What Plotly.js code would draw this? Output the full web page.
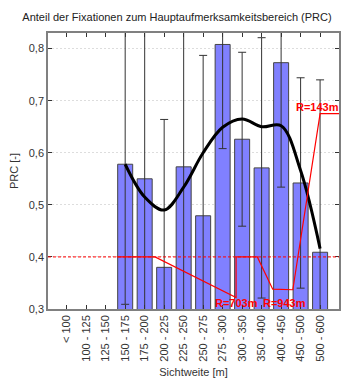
<!DOCTYPE html>
<html>
<head>
<meta charset="utf-8">
<script src="https://cdn.plot.ly/plotly-3.0.1.min.js"></script>
<style>
  html, body { margin: 0; padding: 0; background: #fff; }
  #chart { width: 342px; height: 383px; }
</style>
</head>
<body>
<div id="chart"></div>
<script>
// Visibility classes (metres)
const categories = ['< 100', '100 - 125', '125 - 150', '150 - 175', '175 - 200', '200 - 225',
  '225 - 250', '250 - 275', '275 - 300', '300 - 350', '350 - 400', '400 - 450',
  '450 - 500', '500 - 600'];

// Mean PRC per class and its standard deviation
const prc      = [null, null, null, 0.578, 0.550, 0.380, 0.573, 0.479, 0.808, 0.626, 0.571, 0.773, 0.542, 0.409];
const prcError = [null, null, null, 0.269, 0.300, 0.284, 0.300, 0.308, 0.200, 0.167, 0.250, 0.239, 0.202, 0.331];

// Smoothed trend through the class means
const trend = [null, null, null, 0.578, 0.515, 0.490, 0.534, 0.600, 0.649, 0.665, 0.650, 0.652, 0.566, 0.416];

// Range model overlay (position along the class axis, value)
const rangeX = [2.57, 4.53, 8.69, 8.69, 9.78, 10.57, 11.60, 13.00, 14.20];
const rangeY = [0.400, 0.400, 0.322, 0.400, 0.400, 0.338, 0.337, 0.675, 0.675];
const rangeLabels = ['R=703m', 'R=943m', 'R=143m'];

const threshold = 0.4;

const FONT = 'Liberation Sans, Arial, sans-serif';
const xRange = [-0.96, 13.97];

const traces = [
  {
    type: 'bar',
    x: categories,
    y: prc,
    width: 0.77,
    marker: { color: '#8080ff', line: { color: '#444', width: 1 } },
    error_y: { type: 'data', array: prcError, visible: true, color: '#333', thickness: 1, width: 4 },
    hoverinfo: 'x+y'
  },
  {
    type: 'scatter',
    mode: 'lines',
    x: categories,
    y: trend,
    line: { color: '#000', width: 3, shape: 'spline', smoothing: 1 },
    hoverinfo: 'skip'
  },
  {
    type: 'scatter',
    mode: 'lines',
    xaxis: 'x2',
    x: rangeX,
    y: rangeY,
    line: { color: '#ff0000', width: 1.2 },
    hoverinfo: 'skip'
  }
];

// Range labels: two along the bottom, one at the top of the last rise
const labelFont = { family: FONT, size: 11, color: '#ff0000', weight: 'bold' };
const annotations = [
  { xref: 'x2', yref: 'y', x: 8.69, y: 0.311, text: rangeLabels[0],
    showarrow: false, xanchor: 'center', yanchor: 'middle', font: labelFont },
  { xref: 'x2', yref: 'y', x: 11.18, y: 0.311, text: rangeLabels[1],
    showarrow: false, xanchor: 'center', yanchor: 'middle', font: labelFont },
  { xref: 'paper', yref: 'y', x: 1.007, y: 0.688, text: rangeLabels[2],
    showarrow: false, xanchor: 'right', yanchor: 'middle', font: labelFont }
];

const layout = {
  width: 342,
  height: 383,
  margin: { l: 48, r: 3, t: 33, b: 74, pad: 0 },
  paper_bgcolor: '#fff',
  plot_bgcolor: '#fff',
  separators: ', ',
  showlegend: false,
  font: { family: FONT, size: 11, color: '#333' },
  title: {
    text: 'Anteil der Fixationen zum Hauptaufmerksamkeitsbereich (PRC)',
    xref: 'container', yref: 'container',
    x: 177 / 342, xanchor: 'center',
    y: 1 - 17 / 383, yanchor: 'middle',
    font: { family: FONT, size: 11, color: '#222' }
  },
  xaxis: {
    type: 'category',
    categoryorder: 'array',
    categoryarray: categories,
    range: xRange,
    tickangle: -90,
    ticks: 'inside',
    ticklen: 4,
    tickcolor: '#333',
    showline: true,
    linecolor: '#808080',
    linewidth: 1.5,
    mirror: 'ticks',
    showgrid: false,
    zeroline: false,
    automargin: false,
    tickfont: { family: FONT, size: 11, color: '#333' },
    title: { text: 'Sichtweite [m]', standoff: 8, font: { family: FONT, size: 11, color: '#333' } }
  },
  xaxis2: {
    type: 'linear',
    overlaying: 'x',
    anchor: 'y',
    range: xRange,
    visible: false
  },
  yaxis: {
    range: [0.3, 0.83],
    tick0: 0.3,
    dtick: 0.1,
    tickformat: '.1f',
    ticks: 'inside',
    ticklen: 4,
    tickcolor: '#333',
    showline: true,
    linecolor: '#808080',
    linewidth: 1.5,
    mirror: 'ticks',
    showgrid: true,
    gridcolor: '#dddddd',
    griddash: '2px,2px',
    gridwidth: 1,
    zeroline: false,
    automargin: false,
    tickfont: { family: FONT, size: 11, color: '#333' },
    title: { text: 'PRC [-]', standoff: 8, font: { family: FONT, size: 11, color: '#333' } }
  },
  shapes: [{
    type: 'line',
    xref: 'paper', yref: 'y',
    x0: 0, x1: 1, y0: threshold, y1: threshold,
    layer: 'above',
    line: { color: '#ff0000', width: 1, dash: '3px,2px' }
  }],
  annotations: annotations
};

Plotly.newPlot('chart', traces, layout, { displayModeBar: false, responsive: false });
</script>
</body>
</html>
